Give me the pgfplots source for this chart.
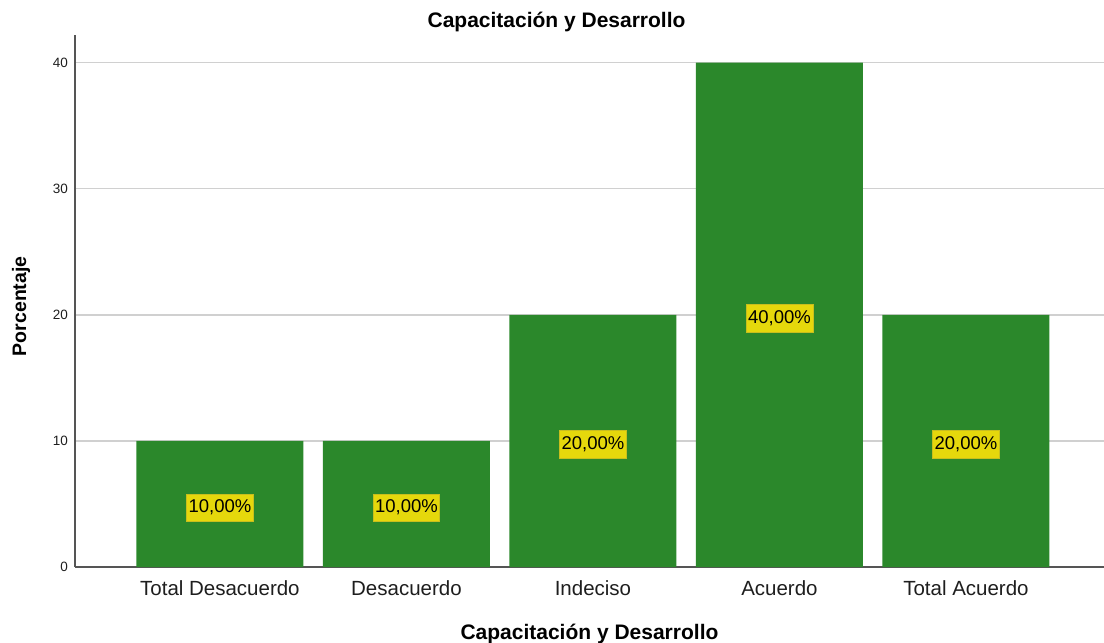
\documentclass[border=0pt]{standalone}
\usepackage{fontspec}
\setmainfont{Liberation Sans}
\usepackage{pgfplots}
\pgfplotsset{compat=1.18}
\definecolor{barGreen}{RGB}{43,136,43}
\definecolor{labelYellow}{RGB}{229,216,12}
\definecolor{labelEdge}{RGB}{200,190,30}
\definecolor{gridGrey}{RGB}{208,208,208}
\definecolor{axisGrey}{RGB}{85,85,85}
\definecolor{txt}{RGB}{30,30,30}

\begin{document}
\begin{tikzpicture}
\begin{axis}[
  at={(0,0)}, anchor=south west,
  width=1029pt, height=532pt, scale only axis,
  xmin=-0.777, xmax=4.74, ymin=0, ymax=42.2,
  axis x line=bottom, axis y line=left,
  axis line style={-, axisGrey, line width=1.1pt},
  major tick length=0pt,
  xtick={0,1,2,3,4},
  xticklabels={Total Desacuerdo, Desacuerdo, Indeciso, Acuerdo, Total Acuerdo},
  ytick={0,10,20,30,40},
  ymajorgrids, grid style={gridGrey, line width=1.4pt},
  /pgf/number format/assume math mode=true,
  xticklabel style={font=\fontsize{20.5}{24}\selectfont, text=txt, yshift=-10pt},
  yticklabel style={font=\fontsize{13.5}{16}\selectfont, text=txt, xshift=-3.5pt},
  every axis title shift=0pt,
  title={Capacitación y Desarrollo},
  title style={font=\bfseries\fontsize{21}{25}\selectfont, at={(axis description cs:0.468,1.025)}, anchor=center},
  xlabel={Capacitación y Desarrollo},
  xlabel style={font=\bfseries\fontsize{21}{25}\selectfont, at={(axis description cs:0.5,-0.125)}, anchor=center},
  ylabel={Porcentaje},
  ylabel style={font=\bfseries\fontsize{19.5}{23}\selectfont, at={(axis description cs:-0.0525,0.49)}, anchor=center},
]
\addplot[ybar, bar width=0.895, fill=barGreen, draw=none] coordinates {
  (0,10) (1,10) (2,20) (3,40) (4,20)
};
% value labels, placed at half bar height
\addplot[draw=none, mark=none, point meta=explicit,
  nodes near coords={\pgfmathprintnumber[fixed,fixed zerofill,precision=2,use comma]{\pgfplotspointmeta}\%},
  every node near coord/.style={anchor=center, yshift=-3.5pt, fill=labelYellow, draw=labelEdge, line width=0.6pt,
    inner xsep=2pt, inner ysep=6pt, text=black, font=\fontsize{18.5}{21}\selectfont}]
coordinates {
  (0,5) [10] (1,5) [10] (2,10) [20] (3,20) [40] (4,10) [20]
};
\end{axis}
\pgfresetboundingbox
\path[use as bounding box] (-75pt,-76pt) rectangle (1029pt,567pt);
\end{tikzpicture}
\end{document}
